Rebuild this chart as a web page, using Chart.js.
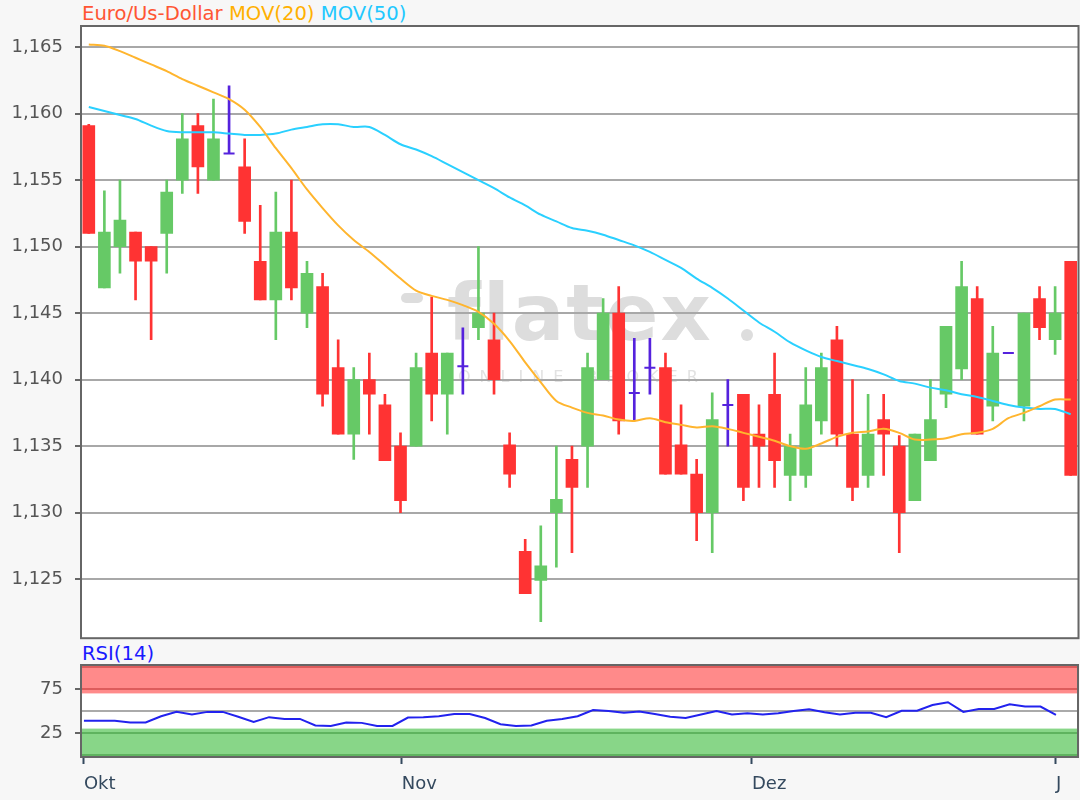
<!DOCTYPE html>
<html>
<head>
<meta charset="utf-8">
<title>Euro/Us-Dollar</title>
<script src="https://cdn.jsdelivr.net/npm/chart.js@4.4.1/dist/chart.umd.min.js"></script>
<style>
  html, body {
    margin: 0;
    padding: 0;
    background: #f7f7f7;
    width: 1080px;
    height: 800px;
    overflow: hidden;
    font-family: "DejaVu Sans", sans-serif;
  }
  #mainChart, #rsiChart {
    position: absolute;
    left: 0;
  }
  #mainChart { top: 0; }
  #rsiChart { top: 640px; }
  .legend {
    position: absolute;
    left: 82px;
    top: 3px;
    font-size: 19.6px;
    line-height: 22px;
    white-space: nowrap;
  }
  .rsi-label {
    position: absolute;
    left: 82px;
    top: 643px;
    font-size: 19.6px;
    line-height: 22px;
    color: #1a1aff;
  }
</style>
</head>
<body>

<div class="legend">
  <span style="color:#ff5533">Euro/Us-Dollar</span>
  <span style="color:#ffb000">MOV(20)</span>
  <span style="color:#22c8ff">MOV(50)</span>
</div>
<div class="rsi-label">RSI(14)</div>

<canvas id="mainChart" width="1086" height="661"></canvas>
<canvas id="rsiChart" width="1080" height="160"></canvas>

<script>
// =============================
// DATA (daily candles, Okt - Dez)
// =============================

const opens = [
  1.1591, 1.1469, 1.1500, 1.1511, 1.1500, 1.1510, 1.1550, 1.1591, 1.1550, 1.1570,
  1.1560, 1.1489, 1.1460, 1.1511, 1.1450, 1.1470, 1.1409, 1.1359, 1.1400, 1.1381,
  1.1350, 1.1350, 1.1420, 1.1389, 1.1410, 1.1439, 1.1430, 1.1351, 1.1271, 1.1249,
  1.1300, 1.1340, 1.1350, 1.1400, 1.1450, 1.1390, 1.1409, 1.1409, 1.1351, 1.1329,
  1.1300, 1.1381, 1.1389, 1.1359, 1.1389, 1.1328, 1.1328, 1.1369, 1.1430, 1.1359,
  1.1328, 1.1370, 1.1350, 1.1309, 1.1339, 1.1389, 1.1408, 1.1461, 1.1380, 1.1420,
  1.1380, 1.1461, 1.1430, 1.1489
];

const highs = [
  1.1592, 1.1542, 1.1550, 1.1511, 1.1500, 1.1550, 1.1600, 1.1600, 1.1611, 1.1621,
  1.1581, 1.1531, 1.1541, 1.1550, 1.1489, 1.1480, 1.1430, 1.1409, 1.1420, 1.1389,
  1.1360, 1.1420, 1.1462, 1.1420, 1.1439, 1.1500, 1.1450, 1.1360, 1.1280, 1.1290,
  1.1350, 1.1350, 1.1420, 1.1461, 1.1470, 1.1431, 1.1431, 1.1420, 1.1381, 1.1340,
  1.1390, 1.1400, 1.1389, 1.1381, 1.1420, 1.1359, 1.1409, 1.1420, 1.1440, 1.1400,
  1.1389, 1.1389, 1.1358, 1.1359, 1.1400, 1.1440, 1.1489, 1.1470, 1.1440, 1.1420,
  1.1450, 1.1470, 1.1470, 1.1489
];

const lows = [
  1.1510, 1.1469, 1.1480, 1.1460, 1.1430, 1.1480, 1.1540, 1.1540, 1.1550, 1.1570,
  1.1510, 1.1460, 1.1430, 1.1460, 1.1439, 1.1380, 1.1359, 1.1340, 1.1359, 1.1339,
  1.1300, 1.1350, 1.1369, 1.1359, 1.1389, 1.1430, 1.1389, 1.1319, 1.1239, 1.1218,
  1.1259, 1.1270, 1.1319, 1.1400, 1.1359, 1.1369, 1.1389, 1.1329, 1.1329, 1.1279,
  1.1270, 1.1350, 1.1309, 1.1319, 1.1319, 1.1309, 1.1319, 1.1359, 1.1350, 1.1309,
  1.1319, 1.1328, 1.1270, 1.1309, 1.1339, 1.1379, 1.1400, 1.1359, 1.1369, 1.1420,
  1.1369, 1.1430, 1.1419, 1.1328
];

const closes = [
  1.1510, 1.1511, 1.1520, 1.1489, 1.1489, 1.1541, 1.1581, 1.1560, 1.1581, 1.1570,
  1.1519, 1.1460, 1.1511, 1.1469, 1.1480, 1.1389, 1.1359, 1.1400, 1.1389, 1.1339,
  1.1309, 1.1409, 1.1389, 1.1420, 1.1410, 1.1450, 1.1400, 1.1329, 1.1239, 1.1260,
  1.1310, 1.1319, 1.1409, 1.1450, 1.1369, 1.1390, 1.1409, 1.1329, 1.1329, 1.1300,
  1.1370, 1.1381, 1.1319, 1.1350, 1.1339, 1.1350, 1.1381, 1.1409, 1.1359, 1.1319,
  1.1359, 1.1359, 1.1300, 1.1359, 1.1370, 1.1440, 1.1470, 1.1359, 1.1420, 1.1420,
  1.1450, 1.1439, 1.1450, 1.1328
];

const mov20 = [
  1.1652, 1.1651, 1.1647, 1.1642, 1.1637, 1.1632, 1.1626, 1.1621, 1.1616, 1.1611,
  1.1603, 1.1590, 1.1574, 1.1559, 1.1543, 1.1529, 1.1516, 1.1505, 1.1496, 1.1486,
  1.1476, 1.1467, 1.1463, 1.1460, 1.1456, 1.1451, 1.1442, 1.1429, 1.1413, 1.1398,
  1.1384, 1.1379, 1.1375, 1.1373, 1.1370, 1.1369, 1.1371, 1.1368, 1.1366, 1.1364,
  1.1365, 1.1363, 1.1360, 1.1357, 1.1354, 1.1350, 1.1348, 1.1352, 1.1357, 1.1360,
  1.1361, 1.1363, 1.1360, 1.1355, 1.1355, 1.1356, 1.1359, 1.1360, 1.1363, 1.1371,
  1.1375, 1.1380, 1.1385, 1.1385
];

const mov50 = [
  1.1605, 1.1602, 1.1599, 1.1596, 1.1591, 1.1587, 1.1586, 1.1586, 1.1586, 1.1585,
  1.1584, 1.1584, 1.1585, 1.1588, 1.1590, 1.1592, 1.1592, 1.1590, 1.1590, 1.1584,
  1.1577, 1.1573, 1.1568, 1.1562, 1.1556, 1.1550, 1.1544, 1.1537, 1.1531, 1.1524,
  1.1519, 1.1514, 1.1512, 1.1509, 1.1505, 1.1501, 1.1496, 1.1490, 1.1484, 1.1476,
  1.1469, 1.1461, 1.1452, 1.1443, 1.1436, 1.1428, 1.1422, 1.1417, 1.1414, 1.1411,
  1.1408, 1.1404, 1.1399, 1.1397, 1.1394, 1.1392, 1.1389, 1.1387, 1.1384, 1.1381,
  1.1379, 1.1378, 1.1378, 1.1374
];

const rsi14 = [
  39, 39, 39, 37, 37, 44, 49, 46, 49, 49,
  43.5, 37.5, 43, 41, 41, 33.5, 33, 37, 36.5, 33,
  33, 42.5, 43, 44, 46.5, 46.5, 42, 35, 33, 33.5,
  39, 41, 44, 51, 50, 48, 49.5, 46.5, 43.5, 42,
  46, 50, 46, 47.5, 46, 47.5, 50, 52, 48.5, 46,
  48, 48, 43, 50.3, 50.3, 56.8, 60, 49, 52.3, 52.3,
  57.6, 55, 55, 45.5
];

const priceTicks = [1.125, 1.130, 1.135, 1.140, 1.145, 1.150, 1.155, 1.160, 1.165];
const rsiTicks = [0, 25, 50, 75, 100];
const monthLabels = ['Okt', 'Nov', 'Dez', 'J'];
const monthPos = [0, 20.6, 43.3, 63];


// =============================
// COLOURS
// =============================

const UP = '#66c966';
const DOWN = '#ff3333';
const DOJI = '#5522dd';

const candleColor = opens.map((o, i) => {
  if (o === closes[i]) return DOJI;
  return closes[i] > o ? UP : DOWN;
});


// =============================
// PLUGINS
// =============================

const plotFrame = {
  id: 'plotFrame',
  beforeDraw(chart, args, opts) {
    const { ctx, chartArea: a } = chart;
    ctx.save();
    ctx.fillStyle = '#ffffff';
    ctx.fillRect(a.left, a.top, a.right - a.left, a.bottom - a.top);

    if (opts.watermark) {
      // flatex logo in the background
      ctx.fillStyle = '#dddddd';
      ctx.strokeStyle = '#dddddd';
      ctx.lineCap = 'round';
      ctx.lineWidth = 10;
      ctx.beginPath();
      ctx.moveTo(406, 298);
      ctx.lineTo(418, 298);
      ctx.stroke();
      ctx.font = 'bold 78px "DejaVu Sans"';
      ctx.textBaseline = 'alphabetic';
      ctx.letterSpacing = '2px';
      ctx.fillText('flatex', 447, 340);
      ctx.letterSpacing = '0px';
      ctx.beginPath();
      ctx.arc(747, 335, 6, 0, Math.PI * 2);
      ctx.fill();
      ctx.fillStyle = '#e2e2e2';
      ctx.font = '16px "DejaVu Sans"';
      ctx.letterSpacing = '9px';
      ctx.fillText('ONLINE BROKER', 458, 382);
      ctx.letterSpacing = '0px';
    }

    if (opts.bands) {
      const y = chart.scales.y;
      ctx.fillStyle = '#ff8a8a';
      ctx.fillRect(a.left, a.top, a.right - a.left, y.getPixelForValue(70) - a.top);
      ctx.fillStyle = '#88d688';
      const g = y.getPixelForValue(30);
      ctx.fillRect(a.left, g, a.right - a.left, a.bottom - g);
    }
    ctx.restore();
  },
  afterDraw(chart) {
    const { ctx, chartArea: a } = chart;
    ctx.save();
    ctx.strokeStyle = '#666666';
    ctx.lineWidth = 2;
    ctx.strokeRect(a.left, a.top, a.right - a.left, a.bottom - a.top);
    ctx.restore();
  }
};


// =============================
// MAIN CHART (candles + moving averages)
// =============================

const mainChart = new Chart(document.getElementById('mainChart'), {

  type: 'bar',

  data: {
    labels: opens.map((o, i) => i),

    datasets: [
      {
        type: 'line',
        label: 'MOV(20)',
        data: mov20,
        borderColor: '#ffb52e',
        borderWidth: 2,
        pointRadius: 0,
        tension: 0.3,
        order: 0
      },
      {
        type: 'line',
        label: 'MOV(50)',
        data: mov50,
        borderColor: '#2ad0ff',
        borderWidth: 2,
        pointRadius: 0,
        tension: 0.3,
        order: 0
      },
      {
        type: 'line',
        label: 'doji',
        data: opens.map((o, i) => (o === closes[i] ? o : null)),
        showLine: false,
        pointStyle: 'line',
        pointRadius: 5.5,
        pointBorderWidth: 2,
        pointBorderColor: DOJI,
        order: 1
      },
      {
        label: 'body',
        data: opens.map((o, i) => (o === closes[i] ? null : [o, closes[i]])),
        backgroundColor: candleColor,
        barThickness: 12,
        grouped: false,
        order: 2
      },
      {
        label: 'wick',
        data: lows.map((l, i) => [l, highs[i]]),
        backgroundColor: candleColor,
        barThickness: 2,
        grouped: false,
        order: 3
      }
    ]
  },

  options: {
    responsive: false,
    animation: false,
    layout: {
      padding: { left: 0, right: 2, top: 26, bottom: 1 }
    },
    plugins: {
      legend: { display: false },
      tooltip: { enabled: false },
      plotFrame: { watermark: true }
    },
    scales: {
      x: {
        display: false
      },
      y: {
        min: 1.12056,
        max: 1.16659,
        afterBuildTicks: scale => {
          scale.ticks = priceTicks.map(v => ({ value: v }));
        },
        afterFit: scale => {
          scale.width = 81;
        },
        ticks: {
          autoSkip: false,
          padding: 12,
          color: '#555555',
          font: { family: '"DejaVu Sans"', size: 18 },
          callback: v => v.toFixed(3).replace('.', ',')
        },
        grid: {
          color: '#a8a8a8',
          lineWidth: 2,
          tickLength: 6,
          tickWidth: 2,
          tickColor: '#666666'
        },
        border: { display: false }
      }
    }
  },

  plugins: [plotFrame]

});


// =============================
// RSI CHART
// =============================

const bandLine = v => {
  if (v >= 75) return '#dd5c5c';
  if (v <= 25) return '#5fb35f';
  return '#aaaaaa';
};

const rsiChart = new Chart(document.getElementById('rsiChart'), {

  type: 'line',

  data: {
    datasets: [{
      label: 'RSI(14)',
      data: rsi14.map((v, i) => ({ x: i, y: v })),
      borderColor: '#2222ee',
      borderWidth: 2,
      pointRadius: 0,
      tension: 0
    }]
  },

  options: {
    responsive: false,
    animation: false,
    layout: {
      padding: { left: 0, right: 2, top: 25, bottom: 0 }
    },
    plugins: {
      legend: { display: false },
      tooltip: { enabled: false },
      plotFrame: { bands: true }
    },
    scales: {
      x: {
        type: 'linear',
        min: -0.19,
        max: 64.43,
        afterBuildTicks: scale => {
          scale.ticks = monthPos.map(v => ({ value: v }));
        },
        afterFit: scale => {
          scale.height = 43;
        },
        ticks: {
          align: 'start',
          autoSkip: false,
          maxRotation: 0,
          padding: 10,
          color: '#34495e',
          font: { family: '"DejaVu Sans"', size: 18 },
          callback: (v, i) => monthLabels[i]
        },
        grid: {
          drawOnChartArea: false,
          tickLength: 7,
          tickWidth: 2,
          tickColor: '#34495e'
        },
        border: { display: false }
      },
      y: {
        min: -2.3,
        max: 102.3,
        afterBuildTicks: scale => {
          scale.ticks = rsiTicks.map(v => ({ value: v }));
        },
        afterFit: scale => {
          scale.width = 81;
        },
        ticks: {
          autoSkip: false,
          padding: 12,
          color: '#555555',
          font: { family: '"DejaVu Sans"', size: 18 },
          callback: v => (v === 25 || v === 75 ? String(v) : '')
        },
        grid: {
          color: ctx => bandLine(ctx.tick.value),
          lineWidth: 2,
          tickLength: 6,
          tickWidth: 2,
          tickColor: ctx => (ctx.tick.value === 25 || ctx.tick.value === 75 ? '#666666' : 'rgba(0,0,0,0)')
        },
        border: { display: false }
      }
    }
  },

  plugins: [plotFrame]

});
</script>
</body>
</html>
